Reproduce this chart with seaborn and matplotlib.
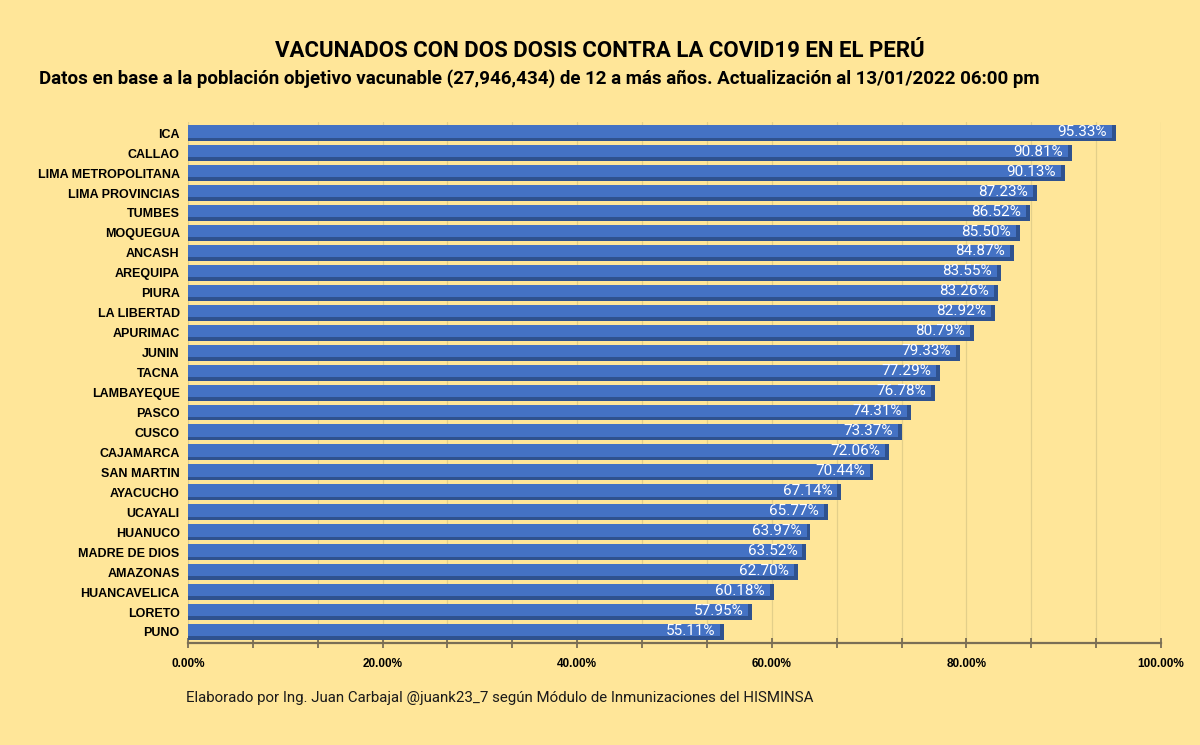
import matplotlib
matplotlib.use('Agg')
import matplotlib.pyplot as plt
import seaborn as sns
import pandas as pd
import numpy as np
from matplotlib.ticker import MultipleLocator, PercentFormatter

# Data
regions = ['ICA', 'CALLAO', 'LIMA METROPOLITANA', 'LIMA PROVINCIAS', 'TUMBES', 'MOQUEGUA',
           'ANCASH', 'AREQUIPA', 'PIURA', 'LA LIBERTAD', 'APURIMAC', 'JUNIN', 'TACNA',
           'LAMBAYEQUE', 'PASCO', 'CUSCO', 'CAJAMARCA', 'SAN MARTIN', 'AYACUCHO', 'UCAYALI',
           'HUANUCO', 'MADRE DE DIOS', 'AMAZONAS', 'HUANCAVELICA', 'LORETO', 'PUNO']
pct = [95.33, 90.81, 90.13, 87.23, 86.52, 85.50, 84.87, 83.55, 83.26, 82.92, 80.79, 79.33,
       77.29, 76.78, 74.31, 73.37, 72.06, 70.44, 67.14, 65.77, 63.97, 63.52, 62.70, 60.18,
       57.95, 55.11]

title = 'VACUNADOS CON DOS DOSIS CONTRA LA COVID19 EN EL PERÚ'
subtitle = ('Datos en base a la población objetivo vacunable (27,946,434) de 12 a más años. '
            'Actualización al 13/01/2022 06:00 pm')
footer = 'Elaborado por Ing. Juan Carbajal @juank23_7 según Módulo de Inmunizaciones del HISMINSA'

bg = '#FFE699'
blue = '#4472C4'
dark_blue = '#2F528F'

df = pd.DataFrame({'region': regions, 'pct': pct})

sns.set_style('white')
plt.rcParams['font.family'] = ['Roboto', 'DejaVu Sans']

fig = plt.figure(figsize=(12, 7.45), dpi=100, facecolor=bg)
ax = fig.add_axes([0.1567, 0.137, 0.8108, 0.699])
ax.set_facecolor(bg)

# darker "3D" base bar, then the lighter face on top
sns.barplot(data=df, x='pct', y='region', color=dark_blue, saturation=1, width=0.8,
            linewidth=0, ax=ax, zorder=2)
n_dark = len(ax.patches)
sns.barplot(data=df, x='pct', y='region', color=blue, saturation=1, width=0.62,
            linewidth=0, ax=ax, zorder=3)
for p in ax.patches[n_dark:]:
    p.set_y(p.get_y() - 0.09)
    p.set_width(p.get_width() - 0.4)

# value labels inside the bar end
for i, v in enumerate(pct):
    ax.text(v - 0.9, i - 0.07, f'{v:.2f}%', color='white', fontsize=11,
            ha='right', va='center', zorder=4)

ax.set_xlim(0, 100)
ax.set_ylim(len(regions) - 0.5 + 0.05, -0.55)
ax.xaxis.set_major_locator(MultipleLocator(20))
ax.xaxis.set_minor_locator(MultipleLocator(20 / 3))
ax.xaxis.set_major_formatter(PercentFormatter(decimals=2))
ax.grid(axis='x', which='both', color='#E3CF8A', linewidth=0.9, zorder=0)
ax.set_axisbelow(True)

for s in ['top', 'right', 'left']:
    ax.spines[s].set_visible(False)
ax.spines['bottom'].set_color('#7A6E55')
ax.spines['bottom'].set_linewidth(1.6)
ax.tick_params(axis='x', which='both', bottom=True, direction='inout', length=7, width=1.2,
               color='#6E6450', pad=7, labelcolor='black')
ax.tick_params(axis='y', length=0, pad=6, labelcolor='black')
for lbl in ax.get_xticklabels():
    lbl.set_fontfamily('Liberation Sans')
    lbl.set_fontweight('bold')
    lbl.set_fontsize(8.5)
for lbl in ax.get_yticklabels():
    lbl.set_fontfamily('Liberation Sans')
    lbl.set_fontweight('bold')
    lbl.set_fontsize(9)
ax.set_xlabel('')
ax.set_ylabel('')

fig.text(0.5, 0.932, title, ha='center', va='center', fontsize=16, fontweight='bold', color='black')
fig.text(0.449, 0.894, subtitle, ha='center', va='center', fontsize=13.5, fontweight='bold', color='black')
fig.text(0.155, 0.063, footer, ha='left', va='center', fontsize=10.8, color='#1a1a1a')

fig.savefig('out.png', dpi=100, facecolor=bg)
